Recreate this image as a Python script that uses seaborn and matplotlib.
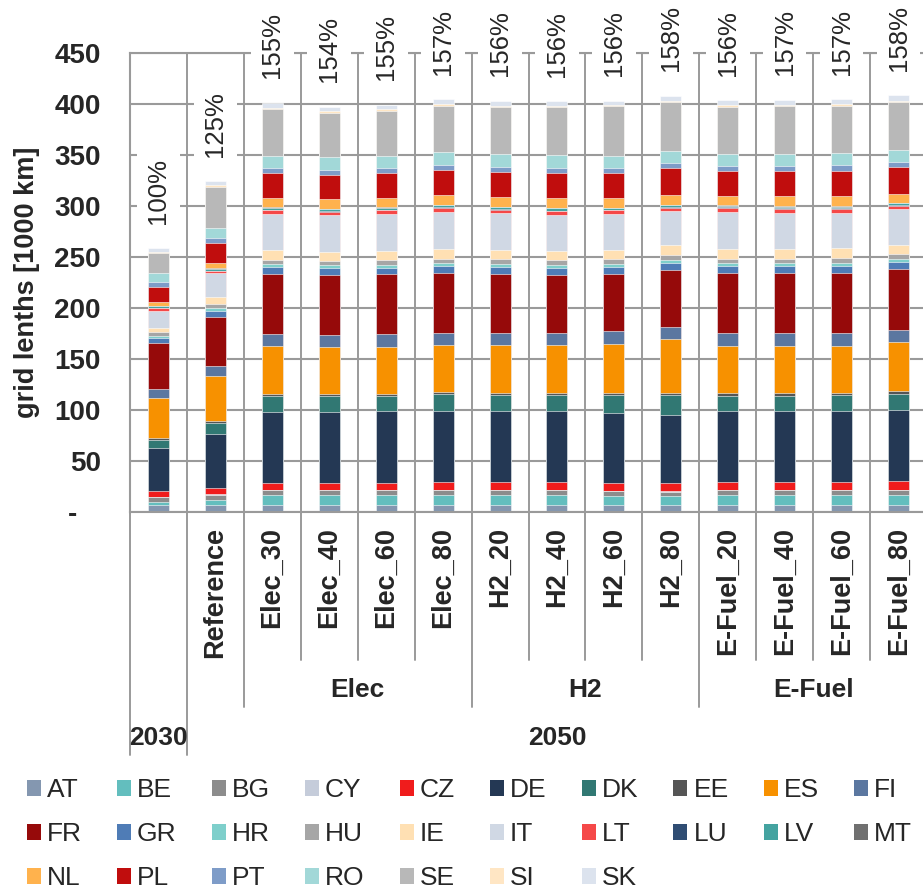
"""
案例:
    各情景下欧盟各国电网长度的堆叠柱状图 (2030 / 2050).
"""
# 导包
import seaborn as sns
import pandas as pd
import matplotlib.pyplot as plt
from matplotlib.patches import Patch
from matplotlib.transforms import blended_transform_factory

# todo 0. 数据 (单位: 1000 km, 估计值)
scenarios = ['2030', 'Reference', 'Elec_30', 'Elec_40', 'Elec_60', 'Elec_80',
             'H2_20', 'H2_40', 'H2_60', 'H2_80',
             'E-Fuel_20', 'E-Fuel_40', 'E-Fuel_60', 'E-Fuel_80']
# 下方第一层标签 (2030 那一列没有)
tick_labels = ['', 'Reference', 'Elec_30', 'Elec_40', 'Elec_60', 'Elec_80',
               'H2_20', 'H2_40', 'H2_60', 'H2_80',
               'E-Fuel_20', 'E-Fuel_40', 'E-Fuel_60', 'E-Fuel_80']
group_labels = ['Elec', 'H2', 'E-Fuel']
year_labels = ['2030', '2050']
pct_labels = ['100%', '125%', '155%', '154%', '155%', '157%',
              '156%', '156%', '156%', '158%',
              '156%', '157%', '157%', '158%']

countries = ['AT', 'BE', 'BG', 'CY', 'CZ', 'DE', 'DK', 'EE', 'ES', 'FI',
             'FR', 'GR', 'HR', 'HU', 'IE', 'IT', 'LT', 'LU', 'LV', 'MT',
             'NL', 'PL', 'PT', 'RO', 'SE', 'SI', 'SK']

AT = [6.5, 6.5, 7.2, 7.2, 7.2, 7.2, 7.2, 7.2, 7.2, 7.2, 7.2, 7.2, 7.2, 7.2]
BE = [3.3, 5.6, 9.2, 9.2, 9.2, 9.2, 9.2, 9.2, 8.5, 8.2, 9.2, 9.2, 9.2, 9.2]
BG = [4.6, 4.6, 4.9, 4.9, 4.9, 4.9, 4.9, 4.9, 4.6, 4.6, 4.9, 4.9, 4.9, 4.9]
CY = [0.6, 0.5, 0.6, 0.6, 0.6, 0.6, 0.6, 0.6, 0.6, 0.6, 0.6, 0.6, 0.6, 0.6]
CZ = [5.9, 6.7, 6.9, 6.9, 6.9, 7.5, 7.2, 7.2, 7.5, 7.9, 7.2, 7.2, 7.2, 8.2]
DE = [41.9, 52.6, 69.3, 69.3, 70.3, 69.7, 69.7, 69.7, 68.7, 67.0, 70.0, 70.0, 70.0, 69.7]
DK = [8.2, 10.5, 15.7, 15.4, 14.7, 16.3, 15.7, 15.7, 17.3, 19.0, 14.7, 14.7, 15.4, 16.3]
EE = [1.9, 2.6, 2.3, 2.6, 2.3, 2.3, 2.6, 2.6, 2.6, 2.3, 2.9, 2.9, 2.3, 2.3]
ES = [38.6, 43.5, 46.4, 45.8, 45.8, 45.8, 46.4, 46.4, 48.1, 52.6, 46.4, 46.4, 46.4, 48.1]
FI = [8.8, 10.5, 12.5, 12.1, 12.4, 12.4, 12.1, 12.4, 12.4, 12.1, 12.1, 12.1, 12.1, 12.4]
FR = [45.5, 47.7, 58.2, 58.2, 58.9, 58.6, 58.2, 56.9, 56.2, 56.2, 59.2, 59.2, 59.2, 58.9]
GR = [4.6, 5.6, 7.2, 7.2, 6.2, 6.5, 6.5, 6.9, 6.5, 6.5, 6.5, 6.5, 6.5, 7.2]
HR = [2.3, 3.0, 2.9, 2.3, 2.9, 2.9, 3.3, 2.6, 3.3, 2.9, 2.9, 2.9, 2.9, 2.9]
HU = [3.6, 4.1, 4.2, 4.6, 4.6, 4.6, 4.2, 4.6, 4.6, 4.6, 4.6, 4.3, 5.2, 4.6]
IE = [4.5, 6.3, 8.9, 8.8, 8.8, 9.5, 9.5, 9.2, 9.2, 9.8, 9.2, 9.8, 9.5, 9.2]
IT = [16.4, 23.8, 35.6, 35.6, 36.3, 36.6, 35.6, 35.3, 34.7, 33.4, 36.6, 35.3, 34.7, 35.0]
LT = [2.6, 2.0, 4.0, 3.9, 3.9, 3.9, 3.6, 3.6, 3.9, 3.6, 3.9, 3.9, 3.9, 3.6]
LU = [0.3, 0.3, 0.5, 0.5, 0.5, 0.5, 0.5, 0.5, 0.5, 0.5, 0.5, 0.5, 0.5, 0.5]
LV = [1.7, 2.3, 2.0, 2.0, 2.0, 1.8, 2.1, 2.1, 1.8, 1.8, 1.8, 1.8, 1.8, 1.8]
MT = [0.3, 0.3, 0.3, 0.3, 0.3, 0.3, 0.3, 0.3, 0.3, 0.3, 0.3, 0.3, 0.3, 0.3]
NL = [3.3, 5.5, 9.2, 9.2, 9.2, 9.2, 9.8, 9.5, 9.8, 9.2, 9.2, 9.8, 9.8, 9.2]
PL = [15.0, 19.3, 24.6, 23.5, 24.5, 24.9, 24.5, 24.9, 24.5, 26.5, 24.5, 24.5, 24.9, 25.8]
PT = [4.9, 5.0, 4.5, 5.6, 4.6, 4.9, 4.9, 5.2, 4.6, 4.9, 5.2, 4.9, 5.6, 4.9]
RO = [9.5, 9.8, 11.8, 12.4, 12.1, 12.4, 12.1, 12.1, 12.1, 12.4, 11.8, 12.4, 12.1, 12.4]
SE = [19.3, 40.0, 45.8, 43.2, 44.1, 45.8, 46.1, 47.4, 48.1, 47.7, 45.8, 46.4, 46.1, 46.4]
SI = [1.0, 1.5, 1.3, 1.6, 1.6, 1.6, 1.3, 1.3, 1.3, 1.0, 1.6, 1.3, 1.3, 1.3]
SK = [3.6, 4.0, 5.2, 4.3, 4.6, 4.6, 4.9, 4.3, 4.3, 5.2, 4.9, 5.2, 5.2, 5.6]

colors = ['#8497B0', '#63BEBE', '#8C8C8C', '#C5CCDA', '#F01C1C', '#243854',
          '#317873', '#555555', '#F79100', '#5B77A0', '#960A0A', '#4F7CB6',
          '#7ECFCB', '#A6A6A6', '#FFE0B3', '#D0D8E4', '#F54848', '#2F4D73',
          '#44A3A0', '#707070', '#FFB24D', '#C00D0D', '#7E9CC8', '#A2D8D8',
          '#B8B8B8', '#FFE6C4', '#DCE3EE']

GRID = '#9a9a9a'


def dm01_stacked_bar():
    # 1. 风格 + 字体 (set_style 之后再设字体)
    sns.set_style('white')
    plt.rcParams['font.family'] = ['Liberation Sans', 'DejaVu Sans']

    # 2. 组装数据 -> 宽表, 按国家累加
    series = [AT, BE, BG, CY, CZ, DE, DK, EE, ES, FI, FR, GR, HR, HU, IE, IT,
              LT, LU, LV, MT, NL, PL, PT, RO, SE, SI, SK]
    df = pd.DataFrame(dict(zip(countries, series)), index=scenarios)
    cum = df.cumsum(axis=1)
    totals = df.sum(axis=1)

    fig = plt.figure(figsize=(9.23, 8.9), dpi=100)
    ax = fig.add_axes([130 / 923, 1 - 512 / 890, 797 / 923, 459 / 890])

    # 3. 堆叠: 从最高的累计值开始画, 后画的(更矮的)盖在上面
    for c, col in zip(reversed(countries), reversed(colors)):
        sns.barplot(x=scenarios, y=cum[c].values, color=col, saturation=1,
                    width=0.37, edgecolor='white', linewidth=0.4, ax=ax)

    # 4. 坐标轴
    ax.set_xlim(-0.5, len(scenarios) - 0.5)
    ax.set_ylim(0, 450)
    ax.set_xlabel('')
    ax.set_xticks(range(len(scenarios)))
    ax.tick_params(axis='x', length=0, labelbottom=False)
    yt = list(range(0, 451, 50))
    ax.set_yticks(yt)
    ax.set_yticklabels(['-   '] + [str(v) for v in yt[1:]], fontweight='bold', fontsize=20)
    ax.tick_params(axis='y', length=0, pad=21)
    ax.set_ylabel('grid lenths [1000 km]', fontweight='bold', fontsize=19.5)
    ax.yaxis.set_label_coords(-0.113, 0.5)

    ax.set_axisbelow(True)
    ax.grid(axis='y', color=GRID, linewidth=1.5)
    ax.grid(axis='x', visible=False)
    for s in ['top', 'bottom', 'left']:
        ax.spines[s].set_color(GRID)
        ax.spines[s].set_linewidth(1.5)
    ax.spines['right'].set_visible(False)

    # 5. 分类分隔线 (向下延伸到多级标签区域)
    trans = blended_transform_factory(ax.transData, ax.transAxes)
    for k in range(len(scenarios)):
        xb = k - 0.5
        if k in (0, 1):
            y0 = -0.529
        elif k in (2, 6, 10):
            y0 = -0.425
        else:
            y0 = -0.322
        ax.plot([xb, xb], [1, y0], transform=trans, color=GRID, lw=1.4,
                clip_on=False, zorder=0.6)

    # 6. 百分比标签 (白底)
    for i, lab in enumerate(pct_labels):
        ax.text(i, totals.iloc[i] + 24, lab, rotation=90, ha='center', va='bottom',
                fontsize=18.5, zorder=3,
                bbox=dict(facecolor='white', edgecolor='none', pad=7))

    # 7. 多级 x 标签
    for i, lab in enumerate(tick_labels):
        ax.text(i, -0.033, lab, transform=trans, rotation=90, ha='center', va='top',
                fontsize=19.5, fontweight='bold')
    for lab, (a, b) in zip(group_labels, [(2, 5), (6, 9), (10, 13)]):
        ax.text((a + b) / 2, -0.388, lab, transform=trans, ha='center', va='center',
                fontsize=19, fontweight='bold')
    for lab, (a, b) in zip(year_labels, [(0, 0), (1, 13)]):
        ax.text((a + b) / 2, -0.492, lab, transform=trans, ha='center', va='center',
                fontsize=19, fontweight='bold')

    # 8. 图例: 10 列, 按行排列
    handles = [Patch(facecolor=col, edgecolor='none') for col in colors]
    order = []
    for j in range(10):
        for r in range(3):
            idx = r * 10 + j
            if idx < len(countries):
                order.append(idx)
    fig.legend([handles[i] for i in order], [countries[i] for i in order],
               ncol=10, loc='upper left', bbox_to_anchor=(0.029, 0.1255),
               frameon=False, fontsize=19, handlelength=0.53, handleheight=0.52,
               handletextpad=0.23, columnspacing=1.33, labelspacing=0.76,
               borderpad=0, borderaxespad=0)

    fig.savefig('out.png', dpi=100)


if __name__ == '__main__':
    dm01_stacked_bar()
